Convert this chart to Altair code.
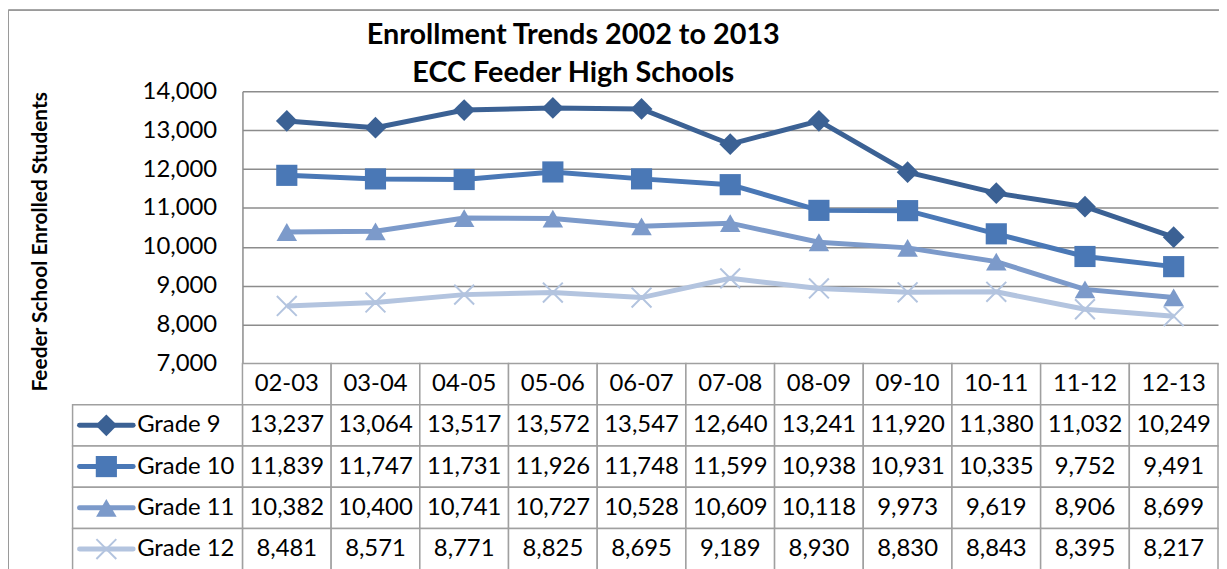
import altair as alt
import pandas as pd

title_lines = ["Enrollment Trends 2002 to 2013", "ECC Feeder High Schools"]
periods = ["02-03", "03-04", "04-05", "05-06", "06-07", "07-08", "08-09", "09-10", "10-11", "11-12", "12-13"]
grades = ["Grade 9", "Grade 10", "Grade 11", "Grade 12"]
grade9 = [13237, 13064, 13517, 13572, 13547, 12640, 13241, 11920, 11380, 11032, 10249]
grade10 = [11839, 11747, 11731, 11926, 11748, 11599, 10938, 10931, 10335, 9752, 9491]
grade11 = [10382, 10400, 10741, 10727, 10528, 10609, 10118, 9973, 9619, 8906, 8699]
grade12 = [8481, 8571, 8771, 8825, 8695, 9189, 8930, 8830, 8843, 8395, 8217]
y_ticks = [7000, 8000, 9000, 10000, 11000, 12000, 13000, 14000]

colors = ["#3B6194", "#4A78B6", "#7C9ACA", "#B3C4DF"]
shapes = ["diamond", "square", "triangle-up", "M-1,-1L1,1M-1,1L1,-1"]
sizes = [480, 400, 420, 330]

FONT = "Lato"
FS = 24
HEADER = "period"
rows = [HEADER] + grades

series = [grade9, grade10, grade11, grade12]
records = []
for g, vals in zip(grades, series):
    for p, v in zip(periods, vals):
        records.append({"grade": g, "period": p, "value": v, "row": g})
df = pd.DataFrame(records)
hdr = pd.DataFrame({"period": periods, "row": HEADER})
leg = pd.DataFrame({"grade": grades, "row": grades})
ttl = pd.DataFrame({"text": title_lines, "line": [0, 1]})

W, H = 982, 274
ROW_H = 41.5

xs = alt.Scale(type="band", domain=periods, paddingInner=0, paddingOuter=0)
X = alt.X("period:N", scale=xs, axis=None)
ys = alt.Scale(domain=[7000, 14000], nice=False, zero=False)
rs = alt.Scale(type="band", domain=rows, range=[H, H + ROW_H * len(rows)], paddingInner=0, paddingOuter=0)
R = alt.Y("row:N", scale=rs, axis=None)

color = alt.Color("grade:N", scale=alt.Scale(domain=grades, range=colors), legend=None)
shape = alt.Shape("grade:N", scale=alt.Scale(domain=grades, range=shapes), legend=None)
size = alt.Size("grade:N", scale=alt.Scale(domain=grades, range=sizes), legend=None)

yaxis = alt.Axis(
    values=y_ticks, format=",.0f", labelFont=FONT, labelFontSize=FS, labelColor="black",
    labelOverlap=False, ticks=False, labelPadding=26, grid=True, gridColor="#8c8c8c", gridWidth=1.5,
    domainColor="#8c8c8c", domainWidth=1.5,
    title="Feeder School Enrolled Students", titleFont=FONT, titleFontSize=21,
    titleFontWeight="bold", titleColor="black", titleX=-203, titleY=151,
    titleAngle=270, titleAlign="center", titleBaseline="middle",
)
Y = alt.Y("value:Q", scale=ys, axis=yaxis)

base = alt.Chart(df)
lines = base.mark_line(strokeWidth=5).encode(x=X, y=Y, color=color, detail="grade:N")
pts = base.transform_filter(alt.datum.grade != "Grade 12").mark_point(filled=True, opacity=1, strokeWidth=0).encode(
    x=X, y=Y, color=color, shape=shape, size=size
)
crosses = base.transform_filter(alt.datum.grade == "Grade 12").mark_point(filled=False, opacity=1, strokeWidth=2).encode(
    x=X, y=Y, color=color, shape=shape, size=size
)
border_l = alt.Chart(hdr).mark_rule(color="#9a9a9a", strokeWidth=1).encode(
    x=alt.value(-235.5), y=alt.value(-81.5), y2=alt.value(H + 300)
)
border_t = alt.Chart(hdr).mark_rule(color="#9a9a9a", strokeWidth=1).encode(
    x=alt.value(-235.5), x2=alt.value(W + 10), y=alt.value(-81.5)
)
plot_layer = alt.layer(lines, pts, crosses, border_l, border_t)

CELL = dict(fill="white", stroke="#a0a0a0", strokeWidth=1.5)
hdr_cells = alt.Chart(hdr).mark_rect(**CELL).encode(x=X, y=R)
val_cells = alt.Chart(df).mark_rect(**CELL).encode(x=X, y=R)
leg_cells = alt.Chart(leg).mark_rect(**CELL).encode(x=alt.value(-171), x2=alt.value(0), y=R)
hdr_text = alt.Chart(hdr).mark_text(font=FONT, fontSize=FS, color="black").encode(x=X, y=R, text="period:N")
val_text = alt.Chart(df).mark_text(font=FONT, fontSize=FS, color="black").encode(
    x=X, y=R, text=alt.Text("value:Q", format=",")
)
leg_rule = alt.Chart(leg).mark_rule(strokeWidth=5, strokeCap="round").encode(
    x=alt.value(-164), x2=alt.value(-110), y=R, color=color
)
leg_pts = alt.Chart(leg).transform_filter(alt.datum.grade != "Grade 12").mark_point(filled=True, opacity=1, strokeWidth=0).encode(
    x=alt.value(-137), y=R, color=color, shape=shape, size=size
)
leg_cross = alt.Chart(leg).transform_filter(alt.datum.grade == "Grade 12").mark_point(filled=False, opacity=1, strokeWidth=2).encode(
    x=alt.value(-137), y=R, color=color, shape=shape, size=size
)
leg_text = alt.Chart(leg).mark_text(font=FONT, fontSize=FS, color="black", align="left").encode(
    x=alt.value(-106), y=R, text="grade:N"
)
table_layer = alt.layer(hdr_cells, val_cells, leg_cells, hdr_text, val_text, leg_rule, leg_pts, leg_cross, leg_text)

title_layer = alt.Chart(ttl).mark_text(
    font=FONT, fontSize=29, fontWeight="bold", color="black", align="center", baseline="middle"
).encode(
    x=alt.value(333),
    y=alt.Y("line:Q", scale=alt.Scale(domain=[0, 1], range=[-57, -18]), axis=None),
    text="text:N",
)

chart = alt.layer(plot_layer, table_layer, title_layer).resolve_scale(y="independent").properties(
    width=W, height=H,
    padding={"left": 236, "top": 82, "right": 1, "bottom": 205},
    autosize="none",
).configure_view(stroke="transparent")

chart.save("out.html", embed_options={"renderer": "svg", "actions": False})
